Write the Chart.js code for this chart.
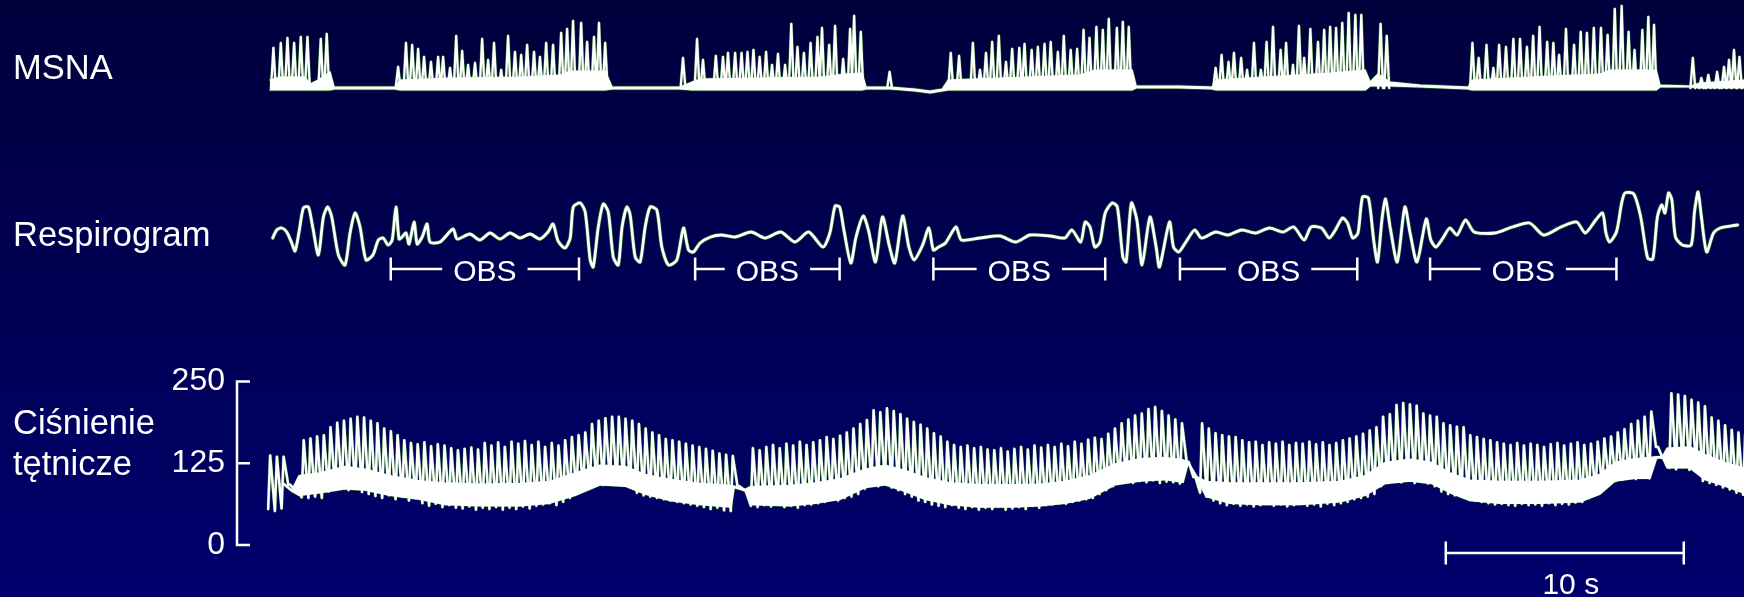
<!DOCTYPE html>
<html>
<head>
<meta charset="utf-8">
<script src="https://cdn.jsdelivr.net/npm/chart.js@4.4.1/dist/chart.umd.min.js"></script>
<style>
  html, body { margin: 0; padding: 0; }
  body {
    width: 1744px; height: 597px; overflow: hidden; position: relative;
    background: linear-gradient(180deg, #00003c 0%, #00006e 100%);
    font-family: 'Liberation Sans', Arial, sans-serif; color: #fff;
  }
  canvas { position: absolute; left: 0; }
  .lbl { position: absolute; left: 13px; font-size: 34.5px; line-height: 41px; white-space: nowrap; }
</style>
</head>
<body>
<canvas id="msna" width="1744" height="100" style="top:0px"></canvas>
<canvas id="resp" width="1744" height="120" style="top:170px"></canvas>
<canvas id="bp" width="1744" height="237" style="top:360px"></canvas>
<div class="lbl" style="top:47px">MSNA</div>
<div class="lbl" style="top:214px">Respirogram</div>
<div class="lbl" style="top:402px">Ciśnienie<br>tętnicze</div>
<script>
// time in seconds from the start of the record (10 s bar = 238 px)
var tMin = -1.39, tMax = 61.93;
var fontFamily = "'Liberation Sans', Arial, sans-serif";

// MSNA: burst spikes (time, amplitude above baseline, arbitrary units)
var msnaSpikeT = [
  0.14, 0.45, 0.73, 1.01, 1.29, 1.57, 2.13, 2.38,
  5.38, 5.71, 5.97, 6.22, 6.47, 6.76, 7.06, 7.27, 7.56, 7.82, 8.07, 8.32, 8.61, 8.91, 9.16, 9.41, 9.71, 10.0, 10.29, 10.55, 10.8, 11.09, 11.34, 11.6, 11.89, 12.23, 12.48, 12.73, 13.07, 13.32, 13.61, 13.82, 14.08,
  17.35, 17.94, 18.19, 18.73, 19.03, 19.24, 19.54, 19.81, 20.06, 20.31, 20.57, 20.84, 21.09, 21.34, 21.64, 21.9, 22.16, 22.43, 22.71, 23.0, 23.19, 23.49, 23.74, 24.08, 24.37, 24.54, 24.82,
  26.03,
  28.6, 28.95, 29.53, 29.83, 30.08, 30.34, 30.62, 30.92, 31.18, 31.48, 31.7, 32.0, 32.26, 32.54, 32.8, 33.1, 33.35, 33.64, 33.91, 34.18, 34.43, 34.72, 34.99, 35.24, 35.58, 35.83, 36.08,
  39.73, 39.98, 40.27, 40.5, 40.8, 41.05, 41.34, 41.63, 41.87, 42.14, 42.46, 42.69, 42.98, 43.23, 43.45, 43.71, 44.03, 44.29, 44.54, 44.79, 45.05, 45.32, 45.6, 45.85,
  46.66, 46.92,
  50.52, 50.78, 51.11, 51.4, 51.64, 51.93, 52.24, 52.52, 52.81, 53.07, 53.34, 53.66, 53.92, 54.16, 54.45, 54.79, 55.07, 55.33, 55.62, 55.92, 56.2, 56.5, 56.79, 57.08, 57.33, 57.66, 57.91, 58.15,
  59.78, 60.14, 60.43, 60.8, 61.09, 61.3, 61.51, 61.74
];
var msnaSpikeV = [
  40, 45, 50, 45, 51, 51, 49, 54,
  21, 45, 43, 39, 31, 26, 31, 31, 20, 52, 37, 23, 25, 49, 28, 45, 18, 52, 36, 33, 43, 36, 31, 45, 43, 55, 59, 67, 65, 46, 51, 65, 45,
  30, 49, 28, 32, 31, 35, 35, 35, 36, 38, 31, 36, 23, 34, 23, 64, 41, 35, 45, 51, 60, 43, 62, 29, 59, 72, 56,
  16,
  35, 32, 45, 18, 35, 46, 52, 26, 39, 40, 44, 38, 41, 44, 46, 36, 52, 38, 39, 58, 50, 61, 58, 69, 60, 66, 61,
  20, 33, 26, 35, 30, 18, 45, 18, 46, 61, 38, 45, 23, 62, 30, 59, 46, 58, 61, 60, 65, 75, 73, 73,
  64, 52,
  45, 30, 43, 20, 43, 41, 49, 49, 41, 52, 61, 46, 45, 33, 59, 43, 56, 55, 60, 60, 53, 79, 82, 56, 38, 58, 71, 63,
  30, 10, 13, 16, 21, 28, 38, 31
];
// MSNA solid activity band (lower / upper edge)
var msnaBandT  = [0, 0.42, 1.47, 1.68, 2.02, 2.52, 2.69, 3.78, 5.25, 5.46, 7.56, 10.5, 12.18, 12.61, 14.08, 14.37, 15.97, 17.23, 17.73, 18.07, 20.59, 23.11, 24.16, 24.87, 25.04, 26.05, 27.1, 27.73, 28.24, 28.49, 30.67, 34.03, 34.66, 36.22, 36.39, 38.24, 39.58, 39.75, 42.44, 44.54, 46.01, 46.22, 46.55, 47.06, 48.32, 50.34, 50.5, 53.78, 55.88, 56.3, 58.24, 58.4, 59.66, 60.08, 61.93];
var msnaBandLo = [-2, -2, -2, -2, -2, -2, -1, -1, -1, -2, -2, -2, -2, -2, -2, -1, -1, -1, -2, -2, -2, -2, -2, -2, -1, -1, -3, -5, -3, -2, -2, -2, -2, -2, 0, 0, -1, -2, -2, -2, -2, 2, 2, 2, 1, -1, -2, -2, -2, -2, -2, 1, 1, 0, 0];
var msnaBandHi = [8, 11, 11, 4, 8, 16, 1, 1, 1, 8, 10, 11, 13, 17, 17, 1, 1, 1, 6, 9, 10, 11, 14, 15, 1, 1, -1, -3, -1, 8, 10, 13, 18, 18, 2, 2, 1, 8, 12, 15, 18, 6, 14, 6, 3, 1, 8, 12, 14, 18, 18, 3, 2, 5, 8];

// Respirogram (arbitrary units, 0 = apnoea level)
var respT = [
  0.11, 0.28, 0.49, 0.7, 0.91, 1.05, 1.23, 1.4, 1.61, 1.79,
  2.03, 2.24, 2.42, 2.59, 2.87, 3.15, 3.36, 3.57, 3.78, 4.03,
  4.32, 4.55, 4.75, 4.96, 5.13, 5.29, 5.42, 5.55, 5.71, 5.84,
  6.05, 6.18, 6.39, 6.6, 6.72, 7.14, 7.69, 7.86, 8.4, 8.82,
  9.24, 9.66, 10.08, 10.5, 10.92, 11.34, 11.68, 11.89, 12.1, 12.39,
  12.61, 12.74, 13.03, 13.24, 13.45, 13.58, 13.79, 14.0, 14.21, 14.42,
  14.63, 14.79, 14.99, 15.13, 15.34, 15.55, 15.76, 15.97, 16.25, 16.46,
  16.74, 17.09, 17.37, 17.58, 17.79, 18.07, 18.51, 18.95, 19.54, 20.21,
  20.8, 21.46, 22.05, 22.63, 23.23, 23.52, 23.74, 23.93, 24.11, 24.4,
  24.62, 24.92, 25.14, 25.44, 25.73, 26.03, 26.25, 26.58, 26.84, 27.06,
  27.42, 27.68, 27.87, 28.09, 28.38, 28.82, 29.05, 29.83, 30.67, 31.33,
  31.93, 32.77, 33.39, 33.69, 34.06, 34.25, 34.45, 34.65, 34.87, 35.09,
  35.38, 35.6, 35.83, 35.97, 36.19, 36.42, 36.64, 36.97, 37.23, 37.37,
  37.79, 37.96, 38.18, 38.48, 38.85, 39.14, 39.73, 40.24, 40.82, 41.41,
  41.99, 42.56, 43.01, 43.45, 43.74, 44.18, 44.5, 44.76, 45.06, 45.27,
  45.49, 45.71, 45.9, 46.15, 46.37, 46.53, 46.73, 46.87, 47.06, 47.36,
  47.68, 47.9, 48.19, 48.58, 48.77, 48.99, 49.28, 49.57, 49.87, 50.23,
  50.59, 51.47, 52.2, 52.92, 53.51, 54.24, 54.9, 55.26, 55.7, 55.99,
  56.13, 56.28, 56.57, 56.79, 56.93, 57.3, 57.59, 57.88, 58.1, 58.29,
  58.47, 58.61, 58.76, 58.9, 59.05, 59.34, 59.71, 59.85, 60.0, 60.14,
  60.36, 60.65, 60.94, 61.66
];
var respV = [
  -1, 7, 9, 5, -6, -14, 7, 29, 30, 10,
  -18, 20, 30, 20, -18, -28, 4, 24, 10, -23,
  -18, -3, -1, -8, -3, 30, -2, 0, 4, -7,
  15, -7, 0, 13, -5, -5, 8, -2, 3, -3,
  4, -2, 4, -1, 3, -2, 5, 13, -4, -11,
  -1, 30, 34, 25, -23, -30, 10, 33, 25, -20,
  -28, 10, 30, 22, -20, -25, 10, 30, 27, -10,
  -28, -23, 9, -13, -15, -6, 0, 2, 0, 5,
  -1, 5, -5, 5, -10, 4, 31, 30, 7, -26,
  0, 21, 7, -25, 20, -10, -26, 21, -10, -23,
  -8, 9, -13, -10, -6, 10, -3, -1, 1, -5,
  2, 1, -1, 7, -5, 15, 10, -10, -5, 24,
  34, 30, -20, -25, 34, 17, -28, 20, -10, -30,
  15, -10, -15, -5, 7, -1, 5, 2, 7, 4,
  9, 5, 10, -3, 10, 9, -1, 7, 19, 14,
  -1, 4, 40, 39, -3, -25, 20, 38, 10, -25,
  30, 4, -25, 18, -3, -10, -1, 9, 2, 17,
  5, 4, 10, 14, 2, 10, 15, 4, 17, 24,
  4, -5, 5, 34, 44, 43, 20, -21, -22, 20,
  32, 24, 44, 37, 0, -8, -8, 25, 45, 20,
  -15, 4, 9, 12
];
var obsStart = [5.07, 17.86, 27.87, 38.23, 48.74];
var obsEnd   = [12.98, 23.93, 35.09, 45.68, 56.57];
var obsLabel = 'OBS';
var obsLevel = -32;

// Arterial pressure (mmHg): one systolic / diastolic value per beat
var bpFirstBeat = -0.08, bpBeatPeriod = 0.2817;
var bpSys = [
  137, 135, 135, 92, 84,
  160, 163, 166, 168, 180, 187, 190, 193, 196, 195,
  190, 186, 178, 174, 168, 160, 156, 154, 157, 151,
  154, 152, 148, 145, 147, 149, 146, 156, 152, 157,
  150, 158, 155, 159, 153, 158, 150, 156, 152, 160,
  165, 168, 172, 185, 190, 194, 196, 196, 193, 190,
  185, 178, 172, 168, 162, 160, 158, 155, 152, 150,
  147, 144, 140, 138, 136, 90, 84,
  148, 145, 150, 153, 148, 155, 152, 158, 153, 157,
  160, 165, 162, 167, 172, 178, 185, 191, 206, 203,
  209, 205, 200, 193, 188, 184, 178, 171, 166, 158,
  153, 150, 152, 148, 150, 146, 145, 148, 143, 147,
  150, 146, 152, 149, 153, 150, 155, 151, 158, 155,
  161, 164, 162, 170, 178, 186, 192, 198, 201, 208,
  211, 205, 198, 192, 186, 127, 104,
  186, 178, 171, 168, 166, 165, 160, 157, 158, 153,
  157, 155, 158, 153, 156, 155, 158, 154, 157, 153,
  156, 160, 163, 166, 170, 175, 180, 196, 200, 214,
  217, 215, 213, 201, 198, 196, 186, 183, 181, 180,
  168, 165, 162, 160, 157, 155, 153, 156, 152, 155,
  153, 150, 154, 156, 152, 155, 157, 153, 155, 158,
  163, 166, 172, 177, 185, 190, 196, 204, 150, 133,
  232, 230, 228, 222, 218, 212, 195, 190, 183, 176, 172, 168
];
var bpDia = [
  55, 52, 56, 92, 84,
  73, 72, 74, 72, 82, 85, 88, 84, 86, 81,
  78, 75, 72, 76, 70, 74, 68, 72, 64, 60,
  63, 58, 61, 57, 56, 59, 54, 57, 55, 58,
  54, 57, 55, 59, 56, 60, 62, 64, 61, 66,
  72, 80, 86, 90, 94, 92, 95, 93, 91, 89,
  80, 76, 74, 72, 70, 68, 66, 64, 62, 60,
  58, 55, 57, 53, 52, 90, 84,
  60, 58, 61, 59, 62, 58, 60, 57, 61, 62,
  64, 66, 70, 68, 72, 74, 78, 86, 92, 90,
  94, 88, 84, 78, 74, 68, 66, 62, 60, 58,
  61, 57, 55, 58, 54, 57, 55, 59, 54, 56,
  58, 55, 60, 57, 61, 62, 64, 63, 66, 68,
  70, 72, 78, 84, 90, 95, 97, 95, 98, 96,
  99, 95, 97, 96, 94, 127, 104,
  80, 74, 68, 64, 61, 63, 60, 62, 59, 61,
  64, 60, 62, 59, 61, 63, 60, 62, 59, 63,
  61, 64, 66, 70, 72, 74, 78, 90, 95, 97,
  96, 99, 95, 97, 94, 90, 82, 78, 76, 74,
  72, 68, 66, 64, 62, 63, 61, 60, 63, 61,
  62, 60, 64, 61, 63, 62, 65, 66, 72, 80,
  88, 94, 98, 100, 102, 101, 104, 102, 150, 133,
  118, 116, 119, 115, 117, 98, 95, 92, 88, 85, 80, 77
];
// dense lower band of the pressure trace (mmHg)
var bpBandT   = [0.55, 0.92, 1.22, 2.1, 3.15, 3.99, 5.04, 6.3, 7.35, 8.82, 10.5, 11.76, 12.82, 13.87, 14.92, 15.76, 16.81, 18.07, 19.37, 19.5, 19.96, 20.17, 21.85, 22.9, 23.95, 25.0, 25.84, 26.68, 27.52, 28.57, 29.83, 31.09, 32.35, 33.4, 34.45, 35.5, 36.55, 37.61, 38.36, 38.57, 38.95, 39.33, 40.34, 41.6, 43.28, 44.96, 46.01, 46.85, 47.9, 48.82, 49.58, 50.42, 51.68, 53.36, 55.04, 55.88, 56.51, 57.35, 57.98, 58.26, 58.51, 58.7, 59.66, 60.29, 61.13, 61.89];
var bpBandTop = [95, 84, 106, 110, 120, 116, 106, 98, 95, 93, 94, 97, 110, 122, 120, 108, 100, 94, 91, 90, 85, 89, 91, 95, 101, 116, 122, 114, 103, 95, 92, 92, 93, 97, 106, 124, 132, 134, 130, 127, 104, 97, 95, 95, 95, 97, 106, 126, 131, 126, 110, 99, 97, 97, 99, 108, 126, 132, 134, 135, 135, 148, 150, 138, 126, 118];
var bpBandBot = [93, 82, 76, 80, 86, 84, 76, 70, 62, 60, 60, 64, 76, 92, 90, 78, 68, 62, 58, 88, 83, 62, 60, 64, 70, 88, 92, 82, 70, 62, 58, 58, 60, 64, 72, 92, 98, 100, 96, 125, 102, 74, 64, 62, 62, 66, 76, 94, 98, 94, 80, 68, 64, 64, 66, 78, 98, 102, 102, 133, 133, 118, 118, 100, 90, 80];
var bpTicks = [0, 125, 250];
var scaleBar = [49.4, 59.4];
var scaleBarLabel = '10 s';
var scaleBarLevel = -12.2;

var white = '#ffffff';
var green = 'rgba(30,110,30,0.85)';

function xy(ts, vs) {
  var out = [];
  for (var i = 0; i < Math.min(ts.length, vs.length); i++) out.push({x: ts[i], y: vs[i]});
  return out;
}

function spikePoints(ts, vs) {
  var pts = [];
  ts.forEach(function(t, i) {
    pts.push({x: t - 0.1, y: 0}, {x: t, y: vs[i]}, {x: t + 0.1, y: 0}, {x: t + 0.11, y: null});
  });
  return pts;
}

function beatPoints() {
  var pts = [];
  bpSys.forEach(function(s, i) {
    var t = bpFirstBeat + i * bpBeatPeriod;
    pts.push({x: t, y: bpDia[i]}, {x: t + bpBeatPeriod * 0.3, y: s});
  });
  return pts;
}

function line(data, color, width, order, extra) {
  var ds = {data: data, borderColor: color, borderWidth: width, order: order,
            pointRadius: 0, fill: false, spanGaps: false, tension: 0};
  for (var k in extra) ds[k] = extra[k];
  return ds;
}

function baseOptions(yMin, yMax) {
  return {
    responsive: false, animation: false, events: [],
    layout: {padding: {left: 237, right: 0, top: 0, bottom: 0}},
    plugins: {legend: {display: false}, tooltip: {enabled: false}},
    elements: {line: {borderJoinStyle: 'round', borderCapStyle: 'round'}},
    scales: {
      x: {type: 'linear', display: false, min: tMin, max: tMax},
      y: {type: 'linear', display: false, min: yMin, max: yMax}
    }
  };
}

// ---- MSNA ----
var msnaSpikes = spikePoints(msnaSpikeT, msnaSpikeV);
var msnaLo = xy(msnaBandT, msnaBandLo), msnaHi = xy(msnaBandT, msnaBandHi);
new Chart(document.getElementById('msna'), {
  type: 'line',
  data: {datasets: [
    line(msnaSpikes, white, 2.3, 0),
    line(msnaLo, white, 1.2, 1),
    line(msnaHi, white, 1.2, 1, {fill: '-1', backgroundColor: white}),
    line(msnaSpikes, green, 3.3, 2),
    line(msnaLo, green, 2.4, 2),
    line(msnaHi, green, 2.4, 2)
  ]},
  options: baseOptions(-12, 88)
});

// ---- Respirogram ----
var obsPlugin = {
  id: 'obsMarks',
  afterDatasetsDraw: function(chart) {
    var ctx = chart.ctx, xs = chart.scales.x, ys = chart.scales.y;
    var py = ys.getPixelForValue(obsLevel);
    ctx.save();
    ctx.strokeStyle = white; ctx.fillStyle = white; ctx.lineWidth = 2.5;
    ctx.font = '30px ' + fontFamily;
    ctx.textAlign = 'center';
    obsStart.forEach(function(s, i) {
      var x1 = xs.getPixelForValue(s), x2 = xs.getPixelForValue(obsEnd[i]);
      var mid = (x1 + x2) / 2, half = ctx.measureText(obsLabel).width / 2 + 11;
      ctx.beginPath();
      ctx.moveTo(x1, py); ctx.lineTo(mid - half, py);
      ctx.moveTo(mid + half, py); ctx.lineTo(x2, py);
      ctx.moveTo(x1, py - 11.5); ctx.lineTo(x1, py + 11.5);
      ctx.moveTo(x2, py - 11.5); ctx.lineTo(x2, py + 11.5);
      ctx.stroke();
      ctx.fillText(obsLabel, mid, py + 11.5);
    });
    ctx.restore();
  }
};
var respPts = xy(respT, respV);
new Chart(document.getElementById('resp'), {
  type: 'line',
  data: {datasets: [
    line(respPts, white, 2.8, 0, {tension: 0.25}),
    line(respPts, green, 4.2, 1, {tension: 0.25})
  ]},
  options: baseOptions(-53, 67),
  plugins: [obsPlugin]
});

// ---- Arterial pressure ----
var bpPlugin = {
  id: 'bpMarks',
  afterDraw: function(chart) {
    var ctx = chart.ctx, xs = chart.scales.x, ys = chart.scales.y;
    var left = chart.chartArea.left;
    ctx.save();
    ctx.strokeStyle = white; ctx.fillStyle = white; ctx.lineWidth = 2.5;
    ctx.beginPath();
    ctx.moveTo(left, ys.getPixelForValue(bpTicks[0]) + 1.25);
    ctx.lineTo(left, ys.getPixelForValue(bpTicks[bpTicks.length - 1]) - 1.25);
    bpTicks.forEach(function(v) {
      var p = ys.getPixelForValue(v);
      ctx.moveTo(left, p); ctx.lineTo(left + 13, p);
    });
    // 10 s scale bar
    var x1 = xs.getPixelForValue(scaleBar[0]), x2 = xs.getPixelForValue(scaleBar[1]);
    var yb = ys.getPixelForValue(scaleBarLevel);
    ctx.moveTo(x1, yb); ctx.lineTo(x2, yb);
    ctx.moveTo(x1, yb - 11.5); ctx.lineTo(x1, yb + 11.5);
    ctx.moveTo(x2, yb - 11.5); ctx.lineTo(x2, yb + 11.5);
    ctx.stroke();
    ctx.font = '30px ' + fontFamily;
    ctx.textAlign = 'center';
    ctx.fillText(scaleBarLabel, (x1 + x2) / 2 + 6, yb + 41);
    ctx.restore();
  }
};
var bpOpts = baseOptions(-79.5, 282.9);
bpOpts.layout.padding.left = 0;
bpOpts.scales.y = {
  type: 'linear', display: true, min: -79.5, max: 282.9,
  grid: {display: false, drawTicks: false},
  border: {display: false},
  ticks: {color: white, padding: 12, font: {family: fontFamily, size: 32}},
  afterBuildTicks: function(s) { s.ticks = bpTicks.map(function(v) { return {value: v}; }); },
  afterFit: function(s) { s.width = 237; s.paddingTop = 0; s.paddingBottom = 0; }
};
var beats = beatPoints();
var bpLo = xy(bpBandT, bpBandBot), bpHi = xy(bpBandT, bpBandTop);
new Chart(document.getElementById('bp'), {
  type: 'line',
  data: {datasets: [
    line(beats, white, 2.5, 0),
    line(bpLo, white, 1.5, 1),
    line(bpHi, white, 1.5, 1, {fill: '-1', backgroundColor: white}),
    line(beats, green, 3.4, 2),
    line(bpLo, green, 2.4, 2),
    line(bpHi, green, 2.4, 2)
  ]},
  options: bpOpts,
  plugins: [bpPlugin]
});
</script>
</body>
</html>
